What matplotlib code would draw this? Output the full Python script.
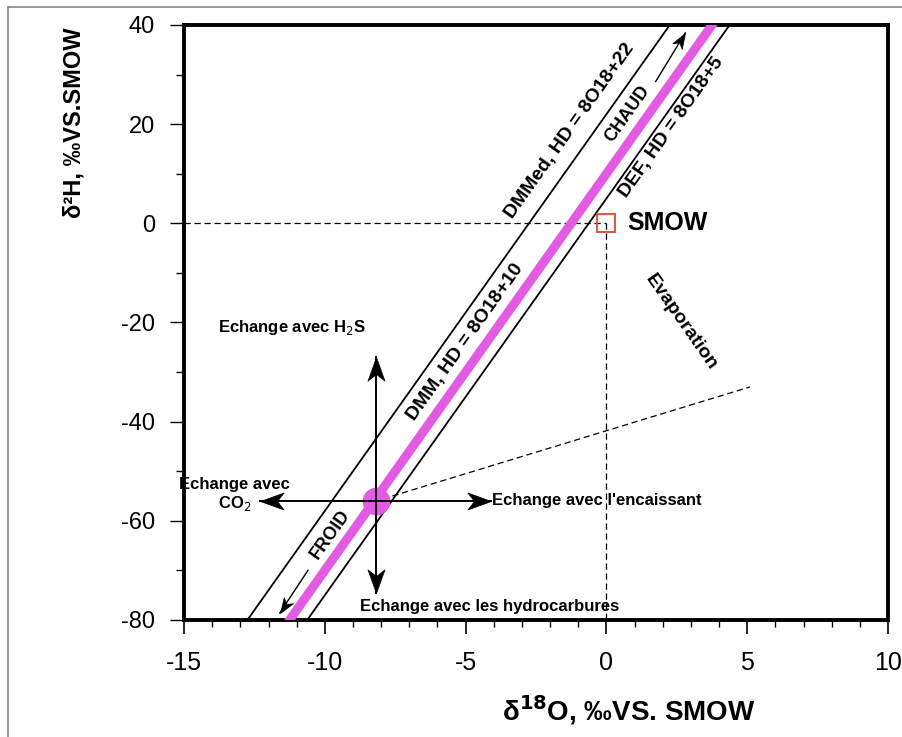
import numpy as np
import matplotlib
matplotlib.use("Agg")
import matplotlib.pyplot as plt
from matplotlib.ticker import MultipleLocator
from matplotlib.lines import Line2D
from matplotlib.markers import MarkerStyle
from matplotlib.path import Path
from matplotlib.transforms import Affine2D

plt.rcParams["font.family"] = ["Liberation Sans", "DejaVu Sans"]

# Meteoric water lines: HD = slope * O18 + intercept
line_names = ["DMMed", "DMM", "DEF"]
line_slopes = [8, 8, 8]
line_intercepts = [22, 10, 5]

# Reference point and process origin (d18O, d2H)
smow = (0.0, 0.0)
origin = (-8.2, -56.0)

# Exchange arrow end points
up_end = (-8.2, -27.0)
down_end = (-8.2, -74.5)
left_end = (-12.3, -56.0)
right_end = (-4.1, -56.0)

# Evaporation trend end
evap_end = (5.1, -33.0)

# Temperature arrows along the DMM line
froid_arrow = [(-10.6, -70.0), (-11.6, -78.6)]
chaud_arrow = [(1.75, 28.6), (2.8, 38.4)]

XLIM = (-15, 10)
YLIM = (-80, 40)
MAGENTA = "#E35BE3"

# Barbed arrow head, tip at the origin, pointing along +x
HEAD = Path([(0, 0), (-1, 0.36), (-0.72, 0), (-1, -0.36), (0, 0)],
            [Path.MOVETO, Path.LINETO, Path.LINETO, Path.LINETO,
             Path.CLOSEPOLY])


def barbed_arrow(ax, start, end, size=34, lw=1.4):
    ax.plot([start[0], end[0]], [start[1], end[1]], color="black", lw=lw,
            zorder=4)
    p0 = ax.transData.transform(start)
    p1 = ax.transData.transform(end)
    ang = np.degrees(np.arctan2(p1[1] - p0[1], p1[0] - p0[0]))
    m = MarkerStyle(HEAD, transform=Affine2D().rotate_deg(ang))
    ax.plot(*end, marker=m, ms=size, color="black", mec="black", mew=0.5,
            zorder=4)


fig = plt.figure(figsize=(9.03, 7.37), dpi=100)
ax = fig.add_axes([0.2038, 0.1588, 0.7796, 0.8073])
ax.set_xlim(*XLIM)
ax.set_ylim(*YLIM)

for s in ax.spines.values():
    s.set_linewidth(2.8)

ax.xaxis.set_major_locator(MultipleLocator(5))
ax.xaxis.set_minor_locator(MultipleLocator(1))
ax.yaxis.set_major_locator(MultipleLocator(20))
ax.yaxis.set_minor_locator(MultipleLocator(10))
ax.tick_params(axis="x", which="major", length=10, width=1.2, pad=12,
               labelsize=18)
ax.tick_params(axis="x", which="minor", length=5, width=1.0)
ax.tick_params(axis="y", which="major", length=10, width=1.0, pad=11,
               labelsize=17)
ax.tick_params(axis="y", which="minor", length=6, width=1.0)
ax.set_xticks(ax.get_xticks(), [f"{int(v)}" for v in ax.get_xticks()])
ax.set_yticks(ax.get_yticks(), [f"{int(v)}" for v in ax.get_yticks()])
ax.set_xlim(*XLIM)
ax.set_ylim(*YLIM)

# Water lines
xs = [XLIM[0] - 5, XLIM[1] + 5]
for name, a, b in zip(line_names, line_slopes, line_intercepts):
    ys = [a * x + b for x in xs]
    if name == "DMM":
        ax.plot(xs, ys, color=MAGENTA, lw=6.5, solid_capstyle="butt", zorder=3)
    else:
        ax.plot(xs, ys, color="black", lw=1.3, zorder=3)

# SMOW guides and marker
ax.plot([XLIM[0], smow[0]], [smow[1], smow[1]], color="black", lw=0.9,
        ls=(0, (5, 3)), zorder=2)
ax.plot([smow[0], smow[0]], [smow[1], YLIM[0]], color="black", lw=0.9,
        ls=(0, (5, 3)), zorder=2)
ax.plot(*smow, marker="s", ms=13, mfc="none", mec="#E0533F", mew=1.4, zorder=5)
ax.text(0.75, 0, "SMOW", fontsize=18, weight="bold", ha="left", va="center")

# Evaporation trend
ax.plot([origin[0] + 0.6, evap_end[0]], [origin[1] + 1.0, evap_end[1]],
        color="black", lw=0.9, ls=(0, (5, 3)), zorder=2)

# Exchange arrows from the origin point
for end in [up_end, down_end, left_end, right_end]:
    barbed_arrow(ax, origin, end)

ax.plot(*origin, marker="o", ms=20, color=MAGENTA, mec="none", zorder=3.5)

# FROID / CHAUD arrows
barbed_arrow(ax, *froid_arrow, size=22, lw=1.0)
barbed_arrow(ax, *chaud_arrow, size=22, lw=1.0)

rot = 54.6
ax.text(-9.8, -62.8, "FROID", rotation=rot, fontsize=13, weight="bold",
        ha="center", va="center")
ax.text(0.75, 22.0, "CHAUD", rotation=rot, fontsize=13, weight="bold",
        ha="center", va="center")
ax.text(-1.3, 18.6, "DMMed, HD = 8O18+22", rotation=rot, fontsize=14,
        weight="bold", ha="center", va="center")
ax.text(-5.0, -24.0, "DMM, HD = 8O18+10", rotation=rot, fontsize=14,
        weight="bold", ha="center", va="center")
ax.text(2.3, 19.3, "DEF, HD = 8O18+5", rotation=rot, fontsize=14,
        weight="bold", ha="center", va="center")
ax.text(2.65, -20.0, "Evaporation", rotation=-55, fontsize=14, weight="bold",
        ha="center", va="center")

ax.text(-13.8, -21.0, "Echange avec H$_2$S", fontsize=12, weight="bold",
        ha="left", va="center")
ax.text(-13.2, -54.8, "Echange avec\nCO$_2$", fontsize=12, weight="bold",
        ha="center", va="center", linespacing=1.2)
ax.text(-4.05, -56.0, "Echange avec l'encaissant", fontsize=12, weight="bold",
        ha="left", va="center")
ax.text(-8.75, -77.3, "Echange avec les hydrocarbures", fontsize=12,
        weight="bold", ha="left", va="center")

ax.set_xlabel(r"δ$^{\mathbf{18}}$O, ‰VS. SMOW", fontsize=20, weight="bold",
              va="center")
ax.xaxis.set_label_coords(0.632, -0.151)
ax.set_ylabel("δ²H, ‰VS.SMOW", fontsize=17, weight="bold")
ax.yaxis.set_label_coords(-0.14, 0.835)

# Gray frame around the figure
frame_kw = dict(color="#888888", lw=1.2, transform=fig.transFigure)
fig.add_artist(Line2D([0.009, 0.009], [0, 0.9905], **frame_kw))
fig.add_artist(Line2D([0.009, 1.0], [0.9905, 0.9905], **frame_kw))

fig.savefig("out.png", dpi=100, facecolor="white")
